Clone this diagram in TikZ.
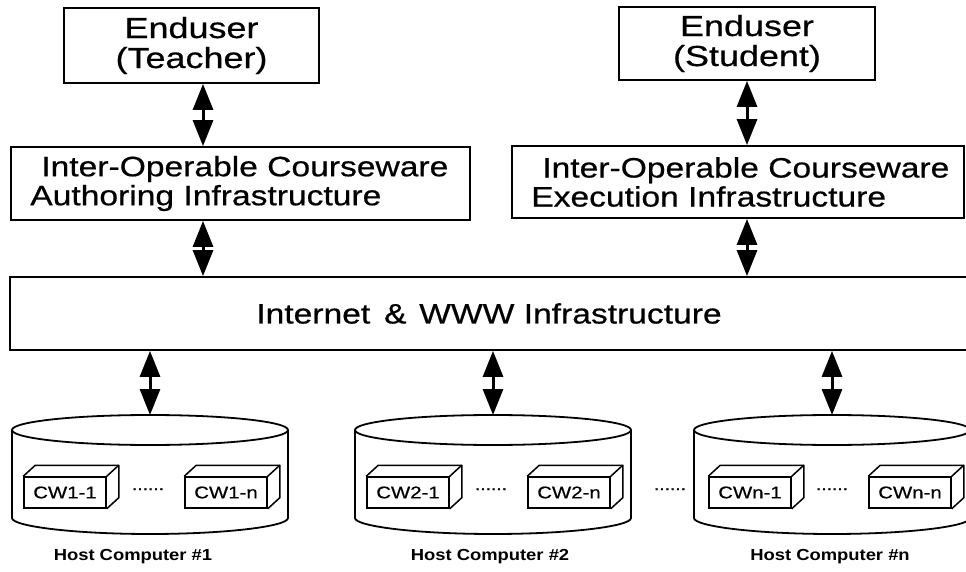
\documentclass[tikz,border=0pt]{standalone}
\usepackage{fontspec}
\setmainfont{Liberation Sans}
\newfontfamily\topsans[FakeStretch=1.24,FakeBold=0.6]{Liberation Sans}
\newfontfamily\widesans[FakeStretch=1.2,FakeBold=0.6]{Liberation Sans}
\newfontfamily\cwsans[FakeStretch=1.2,FakeBold=0.5]{Liberation Sans}
\newfontfamily\hostsans[FakeStretch=1.15]{Liberation Sans}
\usetikzlibrary{arrows.meta}

% one courseware block: front face with label, plus top and side faces
\newcommand{\cwcube}[3]{%
  \node[cw] (#1) at (#2) {#3};
  \draw[cubeedge] (#1.north west) -- ++(12,-11) -| ([shift={(12,-11)}]#1.south east) -- (#1.south east);
  \draw[cubeedge] (#1.north east) -- ++(12,-11);
}
% one host disk: a cylinder whose top point is named #1, centred at x = #2
\newcommand{\hostdisk}[2]{%
  \coordinate (#1) at (#2,415);
  \draw[cyl] (#2,430) ellipse[x radius=138, y radius=15];
  \draw[cyl] (#2-138,430) -- (#2-138,518)
    .. controls (#2-138,526.3) and (#2-76.2,534) .. (#2,534)
    .. controls (#2+76.2,534) and (#2+138,526.3) .. (#2+138,518)
    -- (#2+138,430);
}

\begin{document}
\begin{tikzpicture}[x=1pt,y=-1pt,
  box/.style={draw, line width=1.8pt, inner sep=0pt},
  toptext/.style={font=\topsans\fontsize{29}{30}\selectfont},
  bigtext/.style={font=\widesans\fontsize{28}{29}\selectfont},
  dar/.style={{Triangle[length=26pt,width=20pt]}-{Triangle[length=26pt,width=20pt]}, line width=3pt},
  cyl/.style={line width=1.8pt},
  cubeedge/.style={line width=1.5pt, line join=round},
  cw/.style={draw, line width=1.5pt, minimum width=82pt, minimum height=31pt, inner sep=0pt,
             font=\cwsans\fontsize{17}{19}\selectfont},
  host/.style={font=\hostsans\bfseries\fontsize{16}{18}\selectfont},
  dots/.style={font=\widesans\fontsize{16}{18}\selectfont, inner sep=0pt, anchor=base}]

\clip (0,0) rectangle (966,572);
\fill[white] (0,0) rectangle (966,572);

% end users
\node[box, toptext, minimum width=255pt, minimum height=75pt, align=center] (teach) at (191.5,45.5) {Enduser\\(Teacher)};
\node[box, toptext, minimum width=256pt, minimum height=73pt, align=center] (stud) at (747,43.5) {Enduser\\(Student)};

% courseware infrastructures
\node[box, minimum width=459pt, minimum height=73pt] (auth) at (240.5,183.5) {};
\node[bigtext, align=left, anchor=west, inner sep=0pt] (authtext) at ([xshift=20pt]auth.west)
  {\hspace*{11pt}Inter-Operable Courseware\\Authoring Infrastructure};
\node[box, minimum width=452pt, minimum height=72pt] (exec) at (738,182) {};
\node[bigtext, align=left, anchor=west, inner sep=0pt] (exectext) at ([xshift=20pt]exec.west)
  {\hspace*{11pt}Inter-Operable Courseware\\Execution Infrastructure};

% network layer
\node[box, bigtext, minimum width=958pt, minimum height=73pt] (inet) at (489,313.5)
  {Internet\hspace{0.5em}\&\hspace{0.45em}WWW Infrastructure};

% host computers
\hostdisk{diskA}{150}
\hostdisk{diskB}{493}
\hostdisk{diskN}{832}

\cwcube{cwAa}{65,492.5}{CW1-1}
\cwcube{cwAn}{226,492.5}{CW1-n}
\cwcube{cwBa}{408,492.5}{CW2-1}
\cwcube{cwBn}{569,492.5}{CW2-n}
\cwcube{cwNa}{750,492.5}{CWn-1}
\cwcube{cwNn}{910,492.5}{CWn-n}

\node[dots] (dotsA) at (148,490) {......};
\node[dots] (dotsB) at (491,490) {......};
\node[dots] (dotsAB) at (670,490) {......};
\node[dots] (dotsN) at (832,490) {......};

\node[host] (hostA) at (133,557) {Host Computer \#1};
\node[host] (hostB) at (490,557) {Host Computer \#2};
\node[host] (hostN) at (830,557) {Host Computer \#n};

% connectors
\coordinate (xa) at (203,0);
\coordinate (xb) at (747,0);
\draw[dar] (teach.south -| xa) -- (auth.north -| xa);
\draw[dar] (stud.south -| xb) -- (exec.north -| xb);
\draw[dar] (auth.south -| xa) -- (inet.north -| xa);
\draw[dar] (exec.south -| xb) -- (inet.north -| xb);
\draw[dar] (inet.south -| diskA) -- (diskA);
\draw[dar] (inet.south -| diskB) -- (diskB);
\draw[dar] (inet.south -| diskN) -- (diskN);
\end{tikzpicture}
\end{document}
